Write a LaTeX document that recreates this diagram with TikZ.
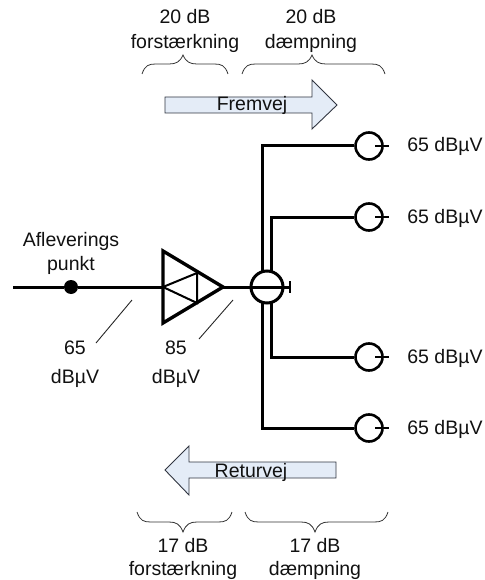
\documentclass[tikz,border=0pt]{standalone}
\usepackage{fontspec}
\setmainfont{Liberation Sans}
\definecolor{txt}{HTML}{111111}
\definecolor{arrowfill}{HTML}{E4ECF7}
\definecolor{arrowline}{HTML}{303540}
\newcommand{\mybrace}[6]{% x1, xm, x2, yend, yflat, ytip
  \draw[bracestyle] (#1,#4) .. controls (#1+3,#5+1) and (#1+7,#5) .. (#1+14,#5)
    -- (#2-14,#5) .. controls (#2-7,#5) and (#2-3,#5-2) .. (#2,#6)
    .. controls (#2+3,#5-2) and (#2+7,#5) .. (#2+14,#5)
    -- (#3-14,#5) .. controls (#3-7,#5) and (#3-3,#5+1) .. (#3,#4);}
\newcommand{\mybraceup}[6]{%
  \draw[bracestyle] (#1,#4) .. controls (#1+3,#5-1) and (#1+7,#5) .. (#1+14,#5)
    -- (#2-14,#5) .. controls (#2-7,#5) and (#2-3,#5+2) .. (#2,#6)
    .. controls (#2+3,#5+2) and (#2+7,#5) .. (#2+14,#5)
    -- (#3-14,#5) .. controls (#3-7,#5) and (#3-3,#5-1) .. (#3,#4);}
\tikzset{
  lbl/.style={font=\fontsize{19.5}{22}\selectfont, text=txt, inner sep=0pt, anchor=base},
  bracestyle/.style={draw=black!80, line width=0.8pt},
  feed/.style={draw=black, line width=3pt},
  thinfeed/.style={draw=black, line width=2.4pt},
  ampedge/.style={draw=black, line width=3.4pt, line join=miter},
  ampinner/.style={draw=black, line width=2pt},
  pointer/.style={draw=black!85, line width=0.9pt},
  tapcircle/.style={circle, draw=black, line width=2.6pt, minimum size=27pt, inner sep=0pt, fill=white},
  splitcircle/.style={circle, draw=black, line width=3pt, minimum size=32pt, inner sep=0pt},
  bigarrow/.style={draw=arrowline, line width=0.9pt, fill=arrowfill},
  dotnode/.style={circle, fill=black, minimum size=14pt, inner sep=0pt},
}
\begin{document}
\begin{tikzpicture}[x=1pt,y=-1pt]
\useasboundingbox (0,0) rectangle (484,580);
% coordinates
\coordinate (start) at (13,287);
\node[dotnode] (dot) at (71,287) {};
\coordinate (ampin) at (163,287);
\coordinate (ampA) at (163,251);
\coordinate (ampB) at (163,323);
\coordinate (amptip) at (223,287);
\coordinate (innerU) at (197,273);
\coordinate (innerL) at (197,303);
\coordinate (split) at (267,287);
\coordinate (stub) at (290,287);
\coordinate (stubU) at (290,281);
\coordinate (stubL) at (290,293);
% arrows
\draw[bigarrow] (165,97) -- (312,97) -- (312,80) -- (337,105) -- (312,129) -- (312,113) -- (165,113) -- cycle;
\draw[bigarrow] (336,462) -- (189,462) -- (189,446) -- (165,470) -- (189,495) -- (189,478) -- (336,478) -- cycle;
\node[lbl] (fremvej) at (252,111) {Fremvej};
\node[lbl] (returvej) at (251,477) {Returvej};
% branch lines
\coordinate (c1) at (262,146);
\coordinate (c2) at (271,217);
\coordinate (c3) at (271,357);
\coordinate (c4) at (262,428);
\coordinate (s1) at (262,287);
\coordinate (s2) at (271,287);
\node[tapcircle] (t1) at (369,146) {};
\node[tapcircle] (t2) at (369,217) {};
\node[tapcircle] (t3) at (369,357) {};
\node[tapcircle] (t4) at (369,428) {};
\draw[feed,line join=miter] (s1) -- (c1) -- (t1.west);
\draw[feed,line join=miter] (s2) -- (c2) -- (t2.west);
\draw[feed,line join=miter] (s2) -- (c3) -- (t3.west);
\draw[feed,line join=miter] (s1) -- (c4) -- (t4.west);
\foreach \n in {1,2,3,4} {
  \coordinate (i\n) at ([xshift=6pt]t\n.center);
  \coordinate (e\n) at ([xshift=20pt]t\n.center);
  \draw[thinfeed] (i\n) -- (e\n);
}
% main line
\node[splitcircle, fill=white] (splitter) at (split) {};
\draw[feed] (start) -- (dot) -- (ampin);
\draw[feed] (amptip) -- (stub);
\draw[thinfeed] (stubU) -- (stubL);
% amplifier
\draw[ampedge] (ampA) -- (amptip) -- (ampB) -- cycle;
\draw[ampinner] (ampin) -- (innerU) -- (innerL) -- cycle;
% pointers
\coordinate (p1a) at (96,343);
\coordinate (p1b) at (132,300);
\coordinate (p2a) at (199,339);
\coordinate (p2b) at (233,300);
\draw[pointer] (p1a) -- (p1b);
\draw[pointer] (p2a) -- (p2b);
% labels
\node[lbl] (l1) at (445,152) {65 dBµV};
\node[lbl] (l2) at (445,223) {65 dBµV};
\node[lbl] (l3) at (445,363) {65 dBµV};
\node[lbl] (l4) at (445,434) {65 dBµV};
\node[lbl] (af) at (71,246) {Afleverings};
\node[lbl] (pu) at (71,270) {punkt};
\node[lbl] (v65) at (75,354) {65};
\node[lbl] (u65) at (75,383) {dBµV};
\node[lbl] (v85) at (176,354) {85};
\node[lbl] (u85) at (176,383) {dBµV};
\node[lbl] (ta) at (185,24) {20 dB};
\node[lbl] (tb) at (185,49) {forstærkning};
\node[lbl] (tc) at (311,24) {20 dB};
\node[lbl] (td) at (311,49) {dæmpning};
\node[lbl] (ba) at (183,552) {17 dB};
\node[lbl] (bb) at (183,575) {forstærkning};
\node[lbl] (bc) at (315,552) {17 dB};
\node[lbl] (bd) at (315,575) {dæmpning};
% braces
\mybrace{142}{183}{228}{74}{64}{55}
\mybrace{242}{312}{385}{74}{64}{55}
\mybraceup{137}{183}{232}{512}{522}{532}
\mybraceup{245}{315}{388}{512}{522}{532}
\end{tikzpicture}
\end{document}
